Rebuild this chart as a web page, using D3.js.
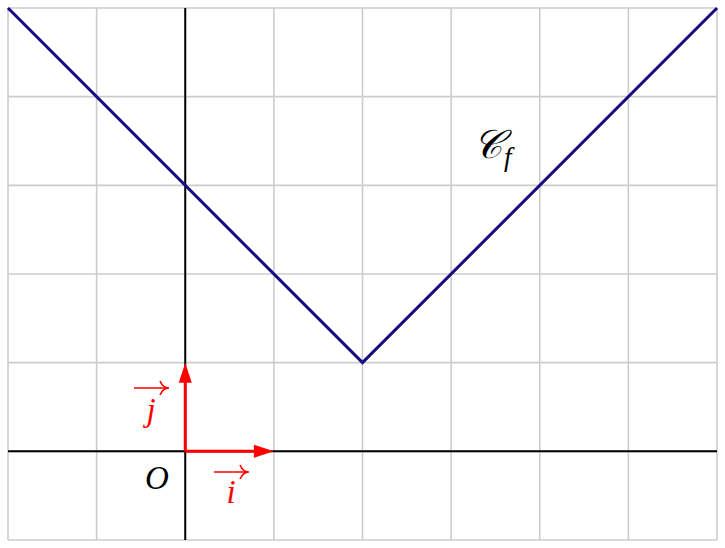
<!DOCTYPE html>
<html><head><meta charset="utf-8">
<script src="https://cdn.jsdelivr.net/npm/d3@7"></script>
<style>body{margin:0;background:#fff}</style>
</head><body>
<script>
const xTicks = [-2,-1,0,1,2,3,4,5,6];
const yTicks = [-1,0,1,2,3,4,5];
const curveX = [-2, 2, 6];
const curveY = [5, 1, 5];
const W = 725, H = 548;
const svg = d3.select("body").append("svg").attr("width", W).attr("height", H);
const x = d3.scaleLinear().domain([-2,6]).range([8,717]);
const y = d3.scaleLinear().domain([-1,5]).range([540,8]);
const g = svg.append("g");
g.selectAll("line.vx").data(xTicks).join("line")
  .attr("x1", d=>x(d)).attr("x2", d=>x(d)).attr("y1", y(-1)).attr("y2", y(5))
  .attr("stroke", "#cccccc").attr("stroke-width", 1.6);
g.selectAll("line.hy").data(yTicks).join("line")
  .attr("y1", d=>y(d)).attr("y2", d=>y(d)).attr("x1", x(-2)).attr("x2", x(6))
  .attr("stroke", "#cccccc").attr("stroke-width", 1.6);
// axes
svg.append("line").attr("x1", x(-2)).attr("x2", x(6)).attr("y1", y(0)).attr("y2", y(0)).attr("stroke","#000").attr("stroke-width",2);
svg.append("line").attr("x1", x(0)).attr("x2", x(0)).attr("y1", y(-1)).attr("y2", y(5)).attr("stroke","#000").attr("stroke-width",2);
// curve
const pts = curveX.map((v,i)=>[v, curveY[i]]);
svg.append("path").attr("d", d3.line().x(d=>x(d[0])).y(d=>y(d[1]))(pts))
  .attr("fill","none").attr("stroke","#150a80").attr("stroke-width",3);
// vectors
const red = "#ff0000";
svg.append("line").attr("x1", x(0)).attr("y1", y(0)).attr("x2", x(1)-14).attr("y2", y(0)).attr("stroke", red).attr("stroke-width",3);
svg.append("path").attr("d", `M${x(1)},${y(0)} L${x(1)-20},${y(0)-6.5} L${x(1)-20},${y(0)+6.5} Z`).attr("fill", red);
svg.append("line").attr("x1", x(0)).attr("y1", y(0)).attr("x2", x(0)).attr("y2", y(1)+14).attr("stroke", red).attr("stroke-width",3);
svg.append("path").attr("d", `M${x(0)},${y(1)} L${x(0)-6.5},${y(1)+20} L${x(0)+6.5},${y(1)+20} Z`).attr("fill", red);
// labels
const font = "Liberation Serif, DejaVu Serif, serif";
function vecLabel(cx, letterY, ay, letter){
  svg.append("text").attr("x", cx).attr("y", letterY).attr("text-anchor","middle")
    .attr("font-family", font).attr("font-style","italic").attr("font-size", 33).attr("fill", red).text(letter);
  svg.append("line").attr("x1", cx-17).attr("x2", cx+17).attr("y1", ay).attr("y2", ay).attr("stroke", red).attr("stroke-width",1.6);
  svg.append("path").attr("d", `M${cx+9},${ay-7} Q${cx+12},${ay} ${cx+18},${ay} Q${cx+12},${ay} ${cx+9},${ay+7}`).attr("fill","none").attr("stroke",red).attr("stroke-width",1.6);
}
vecLabel(151, 421, 388, "j");
vecLabel(231, 503, 472, "i");
svg.append("text").attr("x", 157).attr("y", 489).attr("text-anchor","middle")
  .attr("font-family", font).attr("font-style","italic").attr("font-size", 33).text("O");
const cf = svg.append("text").attr("x", 473).attr("y", 158).attr("font-family", font).attr("font-size", 40);
cf.append("tspan").attr("font-style","italic").text("𝒞");
cf.append("tspan").attr("font-style","italic").attr("font-size", 27).attr("dy", 8).attr("dx", 2).text("f");
</script>
</body></html>
